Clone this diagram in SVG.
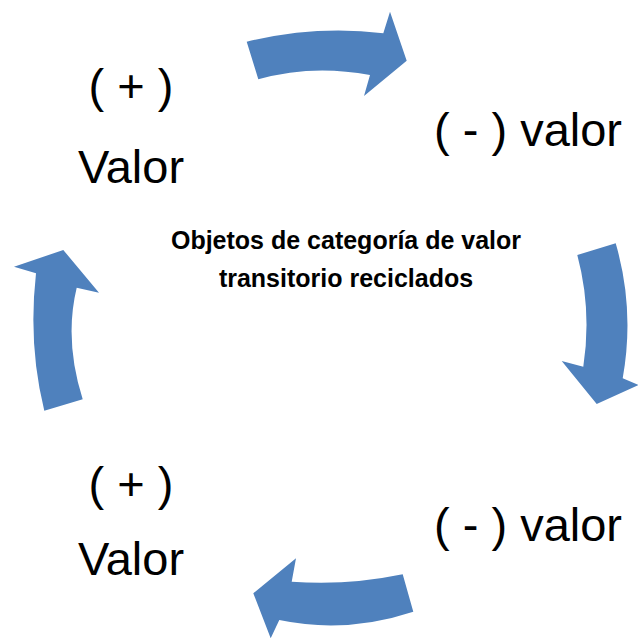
<svg xmlns="http://www.w3.org/2000/svg" width="638" height="639" viewBox="0 0 638 639">
<style>
.arr{fill:#4F81BD;}
.big{font-family:"Liberation Sans",Arial,sans-serif;font-size:47px;fill:#000;}
.mid{font-family:"Liberation Sans",Arial,sans-serif;font-size:25px;font-weight:bold;fill:#000;}
</style>
<rect width="638" height="639" fill="#fff"/>
<g id="connectors">
<path class="arr" d="M246.7,41.7 Q316,25 383.3,33.3 L390,11.7 L406.7,60.7 L364,96 L370,75 Q312,64 258.3,79.3 Z"/>
<path class="arr" d="M577.3,255 L615.7,243.3 Q635,310 622.7,378.3 L638.3,385 L596.7,404 L561.7,361 L583.3,366.7 Q592,310 577.3,255 Z"/>
<path class="arr" d="M402.7,574.3 L413.3,611.7 Q346,634 279.3,620 L270.7,638.3 L253.3,593.3 L296,558.3 L291.7,581.7 Q346,586 402.7,574.3 Z"/>
<path class="arr" d="M44.3,410.7 L82.7,399.3 Q64,340 76.7,287.7 L99,292.7 L63.3,250 L14,266.7 L36,273.3 Q28,345 44.3,410.7 Z"/>
</g>
<g id="node-top-left">
<text class="big" x="131" y="102" text-anchor="middle">( + )</text>
<text class="big" x="131" y="183" text-anchor="middle">Valor</text>
</g>
<g id="node-top-right">
<text class="big" x="434" y="146">( - ) valor</text>
</g>
<g id="node-center">
<text class="mid" x="346" y="249" text-anchor="middle">Objetos de categoría de valor</text>
<text class="mid" x="346" y="287" text-anchor="middle">transitorio reciclados</text>
</g>
<g id="node-bottom-right">
<text class="big" x="434" y="541">( - ) valor</text>
</g>
<g id="node-bottom-left">
<text class="big" x="131" y="500" text-anchor="middle">( + )</text>
<text class="big" x="131" y="575" text-anchor="middle">Valor</text>
</g>
</svg>
